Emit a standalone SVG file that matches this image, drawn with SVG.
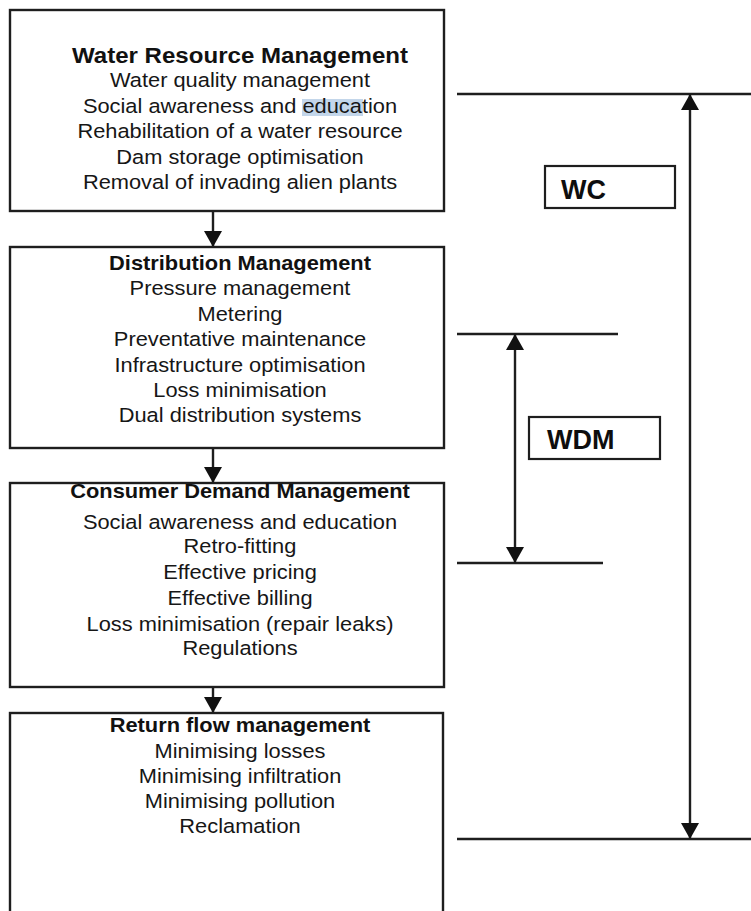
<svg xmlns="http://www.w3.org/2000/svg" width="751" height="911" viewBox="0 0 751 911">
<defs>
<style>
.box{fill:#fff;stroke:#1e1e1e;stroke-width:2.4}
.lbl{fill:#fff;stroke:#1e1e1e;stroke-width:2.2}
.ln{stroke:#1e1e1e;stroke-width:2.4;fill:none}
.t{font-family:"Liberation Sans",Arial,sans-serif;font-size:19.5px;fill:#161616;text-anchor:middle}
.h{font-family:"Liberation Sans",Arial,sans-serif;font-size:19.5px;font-weight:bold;fill:#111;text-anchor:middle}
.k{font-family:"Liberation Sans",Arial,sans-serif;font-size:27px;font-weight:bold;fill:#0e0e0e}
</style>
<marker id="ah" markerUnits="userSpaceOnUse" markerWidth="18" markerHeight="18" viewBox="0 0 16 18" refX="16" refY="9" orient="auto-start-reverse">
<path d="M0,0 L16,9 L0,18 Z" fill="#111"/>
</marker>
</defs>
<rect width="751" height="911" fill="#fff"/>

<g id="connectors">
<line class="ln" x1="213" y1="211" x2="213" y2="247" marker-end="url(#ah)"/>
<line class="ln" x1="213" y1="448" x2="213" y2="483" marker-end="url(#ah)"/>
<line class="ln" x1="213" y1="687" x2="213" y2="713" marker-end="url(#ah)"/>
<line class="ln" x1="457" y1="94" x2="751" y2="94"/>
<line class="ln" x1="457" y1="839" x2="751" y2="839"/>
<line class="ln" x1="690" y1="94" x2="690" y2="839" marker-start="url(#ah)" marker-end="url(#ah)"/>
<line class="ln" x1="457" y1="334" x2="618" y2="334"/>
<line class="ln" x1="457" y1="563" x2="603" y2="563"/>
<line class="ln" x1="515" y1="334" x2="515" y2="563" marker-start="url(#ah)" marker-end="url(#ah)"/>
</g>

<g id="water-resource-management">
<rect class="box" x="10" y="10" width="434" height="201"/>
<rect x="302" y="99" width="61" height="17" fill="#c3d6ea"/>
<g transform="translate(240,0) scale(1.12,1)">
<text class="h" x="0" y="63" style="font-size:21.5px">Water Resource Management</text>
<text class="t" x="0" y="87">Water quality management</text>
<text class="t" x="0" y="113">Social awareness and education</text>
<text class="t" x="0" y="138">Rehabilitation of a water resource</text>
<text class="t" x="0" y="164">Dam storage optimisation</text>
<text class="t" x="0" y="189">Removal of invading alien plants</text>
</g>
</g>

<g id="distribution-management">
<rect class="box" x="10" y="247" width="434" height="201"/>
<g transform="translate(240,0) scale(1.12,1)">
<text class="h" x="0" y="270">Distribution Management</text>
<text class="t" x="0" y="295">Pressure management</text>
<text class="t" x="0" y="321">Metering</text>
<text class="t" x="0" y="346">Preventative maintenance</text>
<text class="t" x="0" y="372">Infrastructure optimisation</text>
<text class="t" x="0" y="397">Loss minimisation</text>
<text class="t" x="0" y="422">Dual distribution systems</text>
</g>
</g>

<g id="consumer-demand-management">
<rect class="box" x="10" y="483" width="434" height="204"/>
<g transform="translate(240,0) scale(1.12,1)">
<text class="h" x="0" y="498">Consumer Demand Management</text>
<text class="t" x="0" y="529">Social awareness and education</text>
<text class="t" x="0" y="553">Retro-fitting</text>
<text class="t" x="0" y="579">Effective pricing</text>
<text class="t" x="0" y="605">Effective billing</text>
<text class="t" x="0" y="631">Loss minimisation (repair leaks)</text>
<text class="t" x="0" y="655">Regulations</text>
</g>
</g>

<g id="return-flow-management">
<rect class="box" x="10" y="713" width="433" height="210"/>
<g transform="translate(240,0) scale(1.12,1)">
<text class="h" x="0" y="732">Return flow management</text>
<text class="t" x="0" y="758">Minimising losses</text>
<text class="t" x="0" y="783">Minimising infiltration</text>
<text class="t" x="0" y="808">Minimising pollution</text>
<text class="t" x="0" y="833">Reclamation</text>
</g>
</g>

<g id="wc">
<rect class="lbl" x="545" y="166" width="130" height="42"/>
<text class="k" x="561" y="199">WC</text>
</g>

<g id="wdm">
<rect class="lbl" x="529" y="417" width="131" height="42"/>
<text class="k" x="547" y="449">WDM</text>
</g>
</svg>
